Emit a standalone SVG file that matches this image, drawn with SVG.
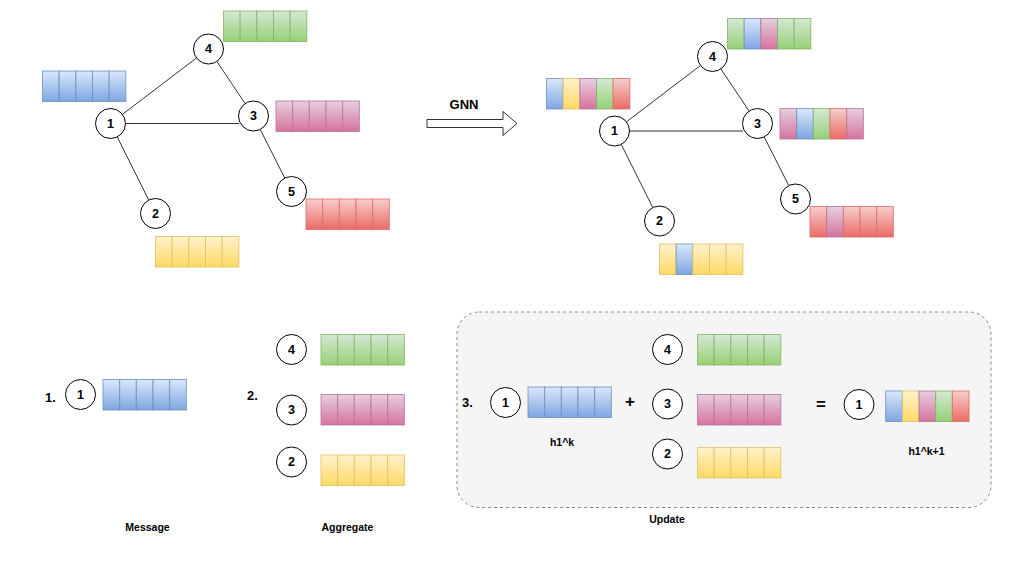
<svg xmlns="http://www.w3.org/2000/svg" width="1016" height="563" viewBox="0 0 1016 563">
<defs>
<linearGradient id="gB" x1="0" y1="0" x2="0" y2="1"><stop offset="0" stop-color="#dae8fc"/><stop offset="1" stop-color="#7ea6e0"/></linearGradient>
<linearGradient id="gG" x1="0" y1="0" x2="0" y2="1"><stop offset="0" stop-color="#d5e8d4"/><stop offset="1" stop-color="#97d077"/></linearGradient>
<linearGradient id="gP" x1="0" y1="0" x2="0" y2="1"><stop offset="0" stop-color="#e6d0de"/><stop offset="1" stop-color="#d5739d"/></linearGradient>
<linearGradient id="gR" x1="0" y1="0" x2="0" y2="1"><stop offset="0" stop-color="#f8cecc"/><stop offset="1" stop-color="#ea6b66"/></linearGradient>
<linearGradient id="gY" x1="0" y1="0" x2="0" y2="1"><stop offset="0" stop-color="#fff2cc"/><stop offset="1" stop-color="#ffd966"/></linearGradient>
</defs>
<style>
.b{fill:url(#gB);stroke:#6c8ebf}
.g{fill:url(#gG);stroke:#82b366}
.p{fill:url(#gP);stroke:#b5739d}
.r{fill:url(#gR);stroke:#d96c68}
.y{fill:url(#gY);stroke:#e0c060}
.cell rect{stroke-width:1;stroke-opacity:0.8;height:30.5px;width:16.67px}
.n circle{fill:#fff;stroke:#000;stroke-width:1}
text{font-family:"Liberation Sans",Arial,sans-serif;font-weight:bold;fill:#000;text-anchor:middle;dominant-baseline:central}
.nt{font-size:12.5px}
.lb{font-size:10.5px}
.big{font-size:13px}
.op{font-size:17px}
.edges line{stroke:#333;stroke-width:1}
</style>

<!-- Left graph -->
<g id="graph-before">
<g id="edges-before" class="edges">
<line x1="122.4" y1="114.4" x2="196.6" y2="57.9"/>
<line x1="216.9" y1="61.5" x2="245.1" y2="103.5"/>
<line x1="125.5" y1="123.5" x2="239" y2="123.5"/>
<line x1="117.2" y1="136.9" x2="148.8" y2="200.1"/>
<line x1="260.2" y1="129.4" x2="284.8" y2="178.1"/>
</g>
<g id="n1" class="n"><circle cx="110.5" cy="123.5" r="15"/><text class="nt" x="110.5" y="123.5">1</text></g>
<g id="n2" class="n"><circle cx="155.5" cy="213.5" r="15"/><text class="nt" x="155.5" y="213.5">2</text></g>
<g id="n3" class="n"><circle cx="253.5" cy="116" r="15"/><text class="nt" x="253.5" y="116">3</text></g>
<g id="n4" class="n"><circle cx="208.5" cy="49" r="15"/><text class="nt" x="208.5" y="49">4</text></g>
<g id="n5" class="n"><circle cx="291.5" cy="191.5" r="15"/><text class="nt" x="291.5" y="191.5">5</text></g>
<g id="v1" class="cell" transform="translate(42.5,71)"><rect class="b" x="0"/><rect class="b" x="16.67"/><rect class="b" x="33.33"/><rect class="b" x="50"/><rect class="b" x="66.67"/></g>
<g id="v4" class="cell" transform="translate(223.5,11)"><rect class="g" x="0"/><rect class="g" x="16.67"/><rect class="g" x="33.33"/><rect class="g" x="50"/><rect class="g" x="66.67"/></g>
<g id="v3" class="cell" transform="translate(276,101)"><rect class="p" x="0"/><rect class="p" x="16.67"/><rect class="p" x="33.33"/><rect class="p" x="50"/><rect class="p" x="66.67"/></g>
<g id="v5" class="cell" transform="translate(306,199)"><rect class="r" x="0"/><rect class="r" x="16.67"/><rect class="r" x="33.33"/><rect class="r" x="50"/><rect class="r" x="66.67"/></g>
<g id="v2" class="cell" transform="translate(155.5,236.5)"><rect class="y" x="0"/><rect class="y" x="16.67"/><rect class="y" x="33.33"/><rect class="y" x="50"/><rect class="y" x="66.67"/></g>
</g>

<!-- GNN arrow -->
<g id="gnn-arrow">
<polygon points="427,119.5 503,119.5 503,111.5 517,123.5 503,135.5 503,127.5 427,127.5" fill="#fff" stroke="#333" stroke-width="1"/>
<text class="big" x="464" y="104.5">GNN</text>
</g>

<!-- Right graph -->
<g id="graph-after" transform="translate(504,7.5)">
<g id="edges-after" class="edges">
<line x1="122.4" y1="114.4" x2="196.6" y2="57.9"/>
<line x1="216.9" y1="61.5" x2="245.1" y2="103.5"/>
<line x1="125.5" y1="123.5" x2="239" y2="123.5"/>
<line x1="117.2" y1="136.9" x2="148.8" y2="200.1"/>
<line x1="260.2" y1="129.4" x2="284.8" y2="178.1"/>
</g>
<g id="m1" class="n"><circle cx="110.5" cy="123.5" r="15"/><text class="nt" x="110.5" y="123.5">1</text></g>
<g id="m2" class="n"><circle cx="155.5" cy="213.5" r="15"/><text class="nt" x="155.5" y="213.5">2</text></g>
<g id="m3" class="n"><circle cx="253.5" cy="116" r="15"/><text class="nt" x="253.5" y="116">3</text></g>
<g id="m4" class="n"><circle cx="208.5" cy="49" r="15"/><text class="nt" x="208.5" y="49">4</text></g>
<g id="m5" class="n"><circle cx="291.5" cy="191.5" r="15"/><text class="nt" x="291.5" y="191.5">5</text></g>
<g id="w1" class="cell" transform="translate(42.5,71)"><rect class="b" x="0"/><rect class="y" x="16.67"/><rect class="p" x="33.33"/><rect class="g" x="50"/><rect class="r" x="66.67"/></g>
<g id="w4" class="cell" transform="translate(223.5,11)"><rect class="g" x="0"/><rect class="b" x="16.67"/><rect class="p" x="33.33"/><rect class="g" x="50"/><rect class="g" x="66.67"/></g>
<g id="w3" class="cell" transform="translate(276,101)"><rect class="p" x="0"/><rect class="b" x="16.67"/><rect class="g" x="33.33"/><rect class="r" x="50"/><rect class="p" x="66.67"/></g>
<g id="w5" class="cell" transform="translate(306,199)"><rect class="r" x="0"/><rect class="p" x="16.67"/><rect class="r" x="33.33"/><rect class="r" x="50"/><rect class="r" x="66.67"/></g>
<g id="w2" class="cell" transform="translate(155.5,236.5)"><rect class="y" x="0"/><rect class="b" x="16.67"/><rect class="y" x="33.33"/><rect class="y" x="50"/><rect class="y" x="66.67"/></g>
</g>

<!-- Step 1: Message -->
<g id="step-message">
<text class="big" x="50.5" y="397">1.</text>
<g id="msg-n1" class="n"><circle cx="80.5" cy="394.5" r="15"/><text class="nt" x="80.5" y="394.5">1</text></g>
<g id="msg-v1" class="cell" transform="translate(103,379.5)"><rect class="b" x="0"/><rect class="b" x="16.67"/><rect class="b" x="33.33"/><rect class="b" x="50"/><rect class="b" x="66.67"/></g>
<text class="lb" x="147.5" y="526.5">Message</text>
</g>

<!-- Step 2: Aggregate -->
<g id="step-aggregate">
<text class="big" x="252.5" y="395">2.</text>
<g id="agg-n4" class="n"><circle cx="291.5" cy="349.5" r="15"/><text class="nt" x="291.5" y="349.5">4</text></g>
<g id="agg-v4" class="cell" transform="translate(321,334.5)"><rect class="g" x="0"/><rect class="g" x="16.67"/><rect class="g" x="33.33"/><rect class="g" x="50"/><rect class="g" x="66.67"/></g>
<g id="agg-n3" class="n"><circle cx="291.5" cy="410" r="15"/><text class="nt" x="291.5" y="410">3</text></g>
<g id="agg-v3" class="cell" transform="translate(321,394.5)"><rect class="p" x="0"/><rect class="p" x="16.67"/><rect class="p" x="33.33"/><rect class="p" x="50"/><rect class="p" x="66.67"/></g>
<g id="agg-n2" class="n"><circle cx="291.5" cy="462" r="15"/><text class="nt" x="291.5" y="462">2</text></g>
<g id="agg-v2" class="cell" transform="translate(321,455)"><rect class="y" x="0"/><rect class="y" x="16.67"/><rect class="y" x="33.33"/><rect class="y" x="50"/><rect class="y" x="66.67"/></g>
<text class="lb" x="347.5" y="526.5">Aggregate</text>
</g>

<!-- Step 3: Update -->
<g id="step-update">
<rect id="update-box" x="457" y="312" width="534" height="195.5" rx="22" ry="22" fill="#f5f5f5" stroke="#888" stroke-width="1" stroke-dasharray="3 3"/>
<text class="big" x="467.5" y="402">3.</text>
<g id="upd-n1" class="n"><circle cx="505.5" cy="402.5" r="15"/><text class="nt" x="505.5" y="402.5">1</text></g>
<g id="upd-v1" class="cell" transform="translate(528,387)"><rect class="b" x="0"/><rect class="b" x="16.67"/><rect class="b" x="33.33"/><rect class="b" x="50"/><rect class="b" x="66.67"/></g>
<text class="lb" x="562" y="442">h1^k</text>
<text class="op" x="630" y="401.5">+</text>
<g id="upd-n4" class="n"><circle cx="667.5" cy="349.5" r="15"/><text class="nt" x="667.5" y="349.5">4</text></g>
<g id="upd-v4" class="cell" transform="translate(697.5,334.5)"><rect class="g" x="0"/><rect class="g" x="16.67"/><rect class="g" x="33.33"/><rect class="g" x="50"/><rect class="g" x="66.67"/></g>
<g id="upd-n3" class="n"><circle cx="667.5" cy="404" r="15"/><text class="nt" x="667.5" y="404">3</text></g>
<g id="upd-v3" class="cell" transform="translate(697.5,394.5)"><rect class="p" x="0"/><rect class="p" x="16.67"/><rect class="p" x="33.33"/><rect class="p" x="50"/><rect class="p" x="66.67"/></g>
<g id="upd-n2" class="n"><circle cx="667.5" cy="454" r="15"/><text class="nt" x="667.5" y="454">2</text></g>
<g id="upd-v2" class="cell" transform="translate(697.5,447.5)"><rect class="y" x="0"/><rect class="y" x="16.67"/><rect class="y" x="33.33"/><rect class="y" x="50"/><rect class="y" x="66.67"/></g>
<text class="op" x="821" y="404">=</text>
<g id="upd-out-n1" class="n"><circle cx="859" cy="404.5" r="15"/><text class="nt" x="859" y="404.5">1</text></g>
<g id="upd-out-v1" class="cell" transform="translate(885.7,391)"><rect class="b" x="0"/><rect class="y" x="16.67"/><rect class="p" x="33.33"/><rect class="g" x="50"/><rect class="r" x="66.67"/></g>
<text class="lb" x="926.5" y="451">h1^k+1</text>
<text class="lb" x="667" y="518.5">Update</text>
</g>
</svg>
